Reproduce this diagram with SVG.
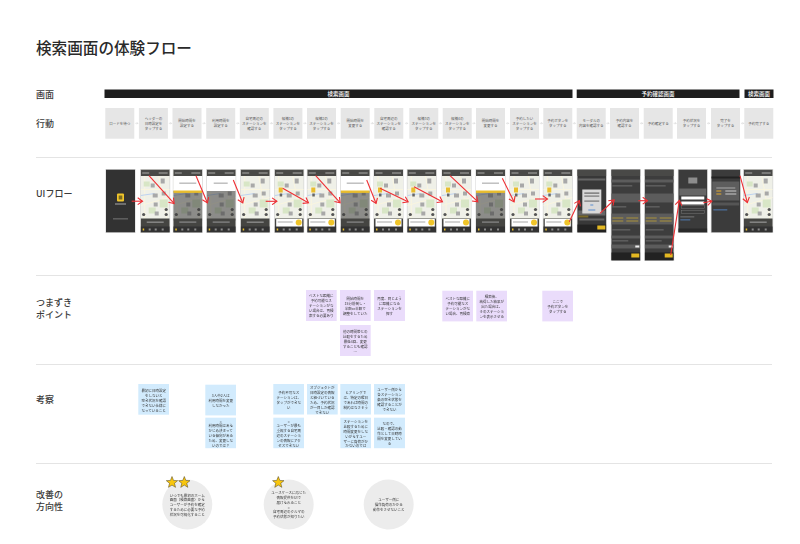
<svg xmlns="http://www.w3.org/2000/svg" xmlns:xlink="http://www.w3.org/1999/xlink" width="800" height="544" viewBox="0 0 800 544">
<style>
text{font-family:"Noto Sans CJK JP","Noto Sans",sans-serif;fill:#333}
.title{font-size:15.6px;font-weight:500;fill:#2a2a2a}
.sec{font-size:9px;font-weight:500;fill:#3a3a3a}
.bt{font-size:5.5px;fill:#fff;text-anchor:middle;font-weight:500}
.t{font-size:3.5px;text-anchor:middle;fill:#555}
.n{font-size:3.5px;text-anchor:middle;fill:#333}
.bar{fill:#1e1e1e}
.act{fill:#e6e6e6}
.pur{fill:#eadcfb}
.blu{fill:#d2ebfd}
.circ{fill:#ececec}
.sep{stroke:#e4e4e4;stroke-width:1}
.aa{stroke:#c8c8c8;stroke-width:.5;fill:none}
.red{stroke:#ee2e33;stroke-width:1.1;fill:none;marker-end:url(#rh)}
.star{fill:#f8c60d;stroke:#4a3d10;stroke-width:.5}
.fr{fill:#d4d4d4}
</style>
<defs>
<filter id="soft" x="-2%" y="-2%" width="104%" height="104%"><feGaussianBlur stdDeviation=".3"/></filter>
<marker id="rh" markerWidth="8" markerHeight="8" refX="5.6" refY="4" orient="auto" markerUnits="userSpaceOnUse"><path d="M1 .6L5.8 4L1 7.4" fill="none" stroke="#ee2e33" stroke-width="1.1"/></marker>
<path id="st" d="M0-6L1.53-2.1 5.7-1.85 2.47.8 3.53 4.85 0 2.6-3.53 4.85-2.47.8-5.7-1.85-1.53-2.1Z"/>
<g id="mapbase">
<rect width="29" height="63" fill="#eff0e8"/>
<path d="M0 20H29M4 6V49M18 6L26 49M0 36L29 28" stroke="#f9f5df" stroke-width="1" fill="none"/>
<path d="M19 30h8v8h-8zM3 12h6v5H3zM8 38h7v6H8z" fill="#d8e6c6"/>
<path d="M0 26L14 24" stroke="#bcd2f0" stroke-width="1"/>
<g fill="#a8a8a8"><rect x="20" y="9" width="4" height="5"/><rect x="10" y="14" width="4" height="4"/><rect x="12" y="24" width="5" height="4"/><rect x="21" y="22" width="4" height="4"/><rect x="13" y="33" width="4" height="4"/><rect x="14" y="42" width="4" height="4"/></g>
<g fill="#555"><circle cx="3" cy="45" r="1.6"/><circle cx="25.5" cy="40" r="1.6"/><circle cx="25.5" cy="45" r="1.6"/></g>
<rect width="29" height="6.5" fill="#4a4a46"/>
<rect x="1.5" y="3" width="7" height="1" fill="#aaa"/><rect x="18" y="3" width="9" height="1" fill="#aaa"/>
</g>
<g id="nav">
<rect y="49" width="29" height="14" fill="#454543"/>
<rect x="0" y="57" width="29" height="6" fill="#333"/>
<g fill="#8d8d8d"><rect x="8" y="59" width="2" height="2"/><rect x="14" y="59" width="2" height="2"/><rect x="21" y="59" width="2" height="2"/></g>
<rect x="2" y="59" width="1.5" height="2" fill="#e8bd2a"/>
</g>
<symbol id="splash" viewBox="0 0 29 63"><rect width="29" height="63" fill="#323232"/><rect x="11" y="24" width="7" height="8" rx="1" fill="#f0c52a"/><rect x="12.7" y="26" width="3.6" height="4" fill="#7a6a20"/><rect x="9" y="34" width="11" height="1" fill="#aaa"/><rect x="7" y="49" width="15" height=".8" fill="#888"/></symbol>
<symbol id="map" viewBox="0 0 29 63"><use xlink:href="#mapbase"/><use xlink:href="#nav"/><rect x="6" y="52" width="17" height="1.4" fill="#8a8a8a"/></symbol>
<symbol id="over" viewBox="0 0 29 63"><use xlink:href="#mapbase"/><rect y="21" width="29" height="30" fill="#3a3a3a" opacity=".55"/><use xlink:href="#nav"/><rect x="6" y="52" width="17" height="1.2" fill="#8a8a8a"/><rect y="6.5" width="29" height="15" fill="#fff"/><rect y="21" width="29" height="2.4" fill="#e9bd2e"/><rect x="6" y="13" width="17" height="1.4" fill="#bbb"/></symbol>
<symbol id="over2" viewBox="0 0 29 63"><use xlink:href="#mapbase"/><rect y="21" width="29" height="30" fill="#3a3a3a" opacity=".55"/><use xlink:href="#nav"/><rect x="6" y="52" width="17" height="1.2" fill="#8a8a8a"/><rect y="6.5" width="29" height="15" fill="#fff"/><rect x="7" y="13" width="14" height="1.4" fill="#bbb"/></symbol>
<symbol id="card" viewBox="0 0 29 63"><use xlink:href="#mapbase"/><use xlink:href="#nav"/><rect x="1.5" y="49.5" width="26" height="7.5" fill="#fff"/><circle cx="24" cy="53" r="3" fill="#f0c52a"/><rect x="3" y="52" width="15" height="1" fill="#aaa"/><rect x="4" y="18" width="4" height="5" fill="#e9bd2e"/><rect x="5" y="24" width="2.5" height="3" fill="#666"/></symbol>
<symbol id="d1" viewBox="0 0 29 63"><rect width="29" height="63" fill="#393939"/><rect width="29" height="6.5" fill="#4a4a46"/><g fill="#666"><rect x="1" y="9" width="27" height="2"/><rect x="1" y="41" width="27" height="5"/><rect x="2" y="49" width="25" height="2"/></g><rect x="5" y="20" width="19" height="24" fill="#d9d9d9"/><rect x="7" y="23" width="15" height="1.2" fill="#666"/><rect x="7" y="26" width="15" height="1.2" fill="#777"/><rect x="7" y="31" width="15" height="1.2" fill="#777"/><rect x="13" y="35" width="3" height="1" fill="#5b8ed0"/><rect x="11" y="40" width="7" height="1" fill="#5b8ed0"/><rect x="1" y="46" width="10" height="2" fill="#7a6a2c"/><rect y="55" width="29" height="8" fill="#222"/><rect x="20" y="56" width="8" height="4" fill="#e3b824"/></symbol>
<symbol id="d2" viewBox="0 0 29 91"><rect width="29" height="91" fill="#3d3d3d"/><rect width="29" height="6.5" fill="#4a4a46"/><g fill="#5c5c5c"><rect y="10" width="29" height="3"/><rect y="24" width="29" height="9"/><rect y="44" width="29" height="11"/><rect y="66" width="29" height="3"/><rect y="75" width="29" height="4"/></g><g fill="#a9913c"><rect x="1" y="48" width="11" height="1"/><rect x="15" y="48" width="12" height="1"/><rect x="1" y="51" width="11" height="1"/><rect x="15" y="51" width="12" height="1"/></g><g fill="#7a7a7a"><rect x="1" y="16" width="20" height=".8"/><rect x="1" y="37" width="14" height=".8"/><rect x="1" y="60" width="18" height=".8"/><rect x="1" y="71" width="16" height=".8"/></g><rect x="24" y="76" width="4" height="2" fill="#eee"/><rect y="83" width="29" height="8" fill="#222"/><rect x="20" y="84" width="8" height="4" fill="#e3b824"/></symbol>
<symbol id="d3" viewBox="0 0 29 63"><rect width="29" height="63" fill="#3a3a3a"/><rect x="10" y="8" width="9" height="6" fill="#8d8d8d"/><rect x="1" y="19" width="27" height="7" fill="#666"/><rect x="3" y="27" width="23" height="3" fill="#fff"/><rect x="3" y="32" width="23" height="3" fill="#fff"/><rect x="3" y="36" width="23" height="3" fill="none" stroke="#888" stroke-width=".4"/><rect x="3" y="41" width="23" height="3" fill="none" stroke="#888" stroke-width=".4"/><rect x="2" y="47" width="14" height=".8" fill="#888"/><rect x="2" y="50" width="10" height=".8" fill="#5b8ed0"/><rect y="59" width="29" height="4" fill="#292929"/></symbol>
<symbol id="d4" viewBox="0 0 29 63"><rect width="29" height="63" fill="#3a3a3a"/><rect y="7" width="29" height="2" fill="#222"/><rect x="1" y="12" width="27" height="19" fill="#5d5d5d"/><rect x="5" y="18" width="19" height="1" fill="#aaa"/><rect x="5" y="21" width="5" height="1" fill="#e3a92c"/><rect x="14" y="21" width="11" height="1" fill="#ccc"/><rect x="5" y="24" width="5" height="1" fill="#e3a92c"/><rect x="14" y="24" width="11" height="1" fill="#ccc"/><rect x="1" y="33" width="27" height="3" fill="#555"/><rect x="2" y="40" width="14" height=".8" fill="#5b8ed0"/></symbol>
</defs>
<rect width="800" height="544" fill="#fff"/>
<text class="title" x="36" y="54">検索画面の体験フロー</text>

<g id="labels">
<text class="sec" x="36" y="97.5">画面</text>
<text class="sec" x="36" y="127">行動</text>
<text class="sec" x="36" y="197">UIフロー</text>
<text class="sec" x="36" y="306">つまずき</text>
<text class="sec" x="36" y="318">ポイント</text>
<text class="sec" x="36" y="403">考察</text>
<text class="sec" x="36" y="497.5">改善の</text>
<text class="sec" x="36" y="509.5">方向性</text>
</g>
<g id="separators">
<path class="sep" d="M36 157.5H772M36 275.5H772M36 364.5H772M36 463.5H772"/>
</g>

<g id="screen-bars">
<g id="bar-1"><rect class="bar" x="104.5" y="89.5" width="468" height="8.5"/><text class="bt" x="338.5" y="95.8">検索画面</text></g>
<g id="bar-2"><rect class="bar" x="576.7" y="89.5" width="162.8" height="8.5"/><text class="bt" x="658" y="95.8">予約確認画面</text></g>
<g id="bar-3"><rect class="bar" x="744.5" y="89.5" width="29" height="8.5"/><text class="bt" x="759" y="95.8">検索画面</text></g>
</g>

<g id="actions">
<g id="a1"><rect class="act" x="105.3" y="108" width="29" height="30.7"/><text class="t" x="119.8" y="124.5">ロードを待つ</text></g>
<g id="a2"><rect class="act" x="138.9" y="108" width="29" height="30.7"/><text class="t"><tspan x="153.4" y="119.5">ヘッダーの</tspan><tspan x="153.4" y="124.5">日時設定を</tspan><tspan x="153.4" y="129.5">タップする</tspan></text></g>
<g id="a3"><rect class="act" x="172.5" y="108" width="29" height="30.7"/><text class="t"><tspan x="187" y="122">開始時間を</tspan><tspan x="187" y="127">設定する</tspan></text></g>
<g id="a4"><rect class="act" x="206.2" y="108" width="29" height="30.7"/><text class="t"><tspan x="220.7" y="122">利用時間を</tspan><tspan x="220.7" y="127">設定する</tspan></text></g>
<g id="a5"><rect class="act" x="239.8" y="108" width="29" height="30.7"/><text class="t"><tspan x="254.3" y="119.5">自宅周辺の</tspan><tspan x="254.3" y="124.5">ステーションを</tspan><tspan x="254.3" y="129.5">確認する</tspan></text></g>
<g id="a6"><rect class="act" x="273.4" y="108" width="29" height="30.7"/><text class="t"><tspan x="287.9" y="119.5">候補1の</tspan><tspan x="287.9" y="124.5">ステーションを</tspan><tspan x="287.9" y="129.5">タップする</tspan></text></g>
<g id="a7"><rect class="act" x="307" y="108" width="29" height="30.7"/><text class="t"><tspan x="321.5" y="119.5">候補2の</tspan><tspan x="321.5" y="124.5">ステーションを</tspan><tspan x="321.5" y="129.5">タップする</tspan></text></g>
<g id="a8"><rect class="act" x="340.7" y="108" width="29" height="30.7"/><text class="t"><tspan x="355.2" y="122">開始時間を</tspan><tspan x="355.2" y="127">変更する</tspan></text></g>
<g id="a9"><rect class="act" x="374.3" y="108" width="29" height="30.7"/><text class="t"><tspan x="388.8" y="119.5">自宅周辺の</tspan><tspan x="388.8" y="124.5">ステーションを</tspan><tspan x="388.8" y="129.5">確認する</tspan></text></g>
<g id="a10"><rect class="act" x="409.3" y="108" width="29" height="30.7"/><text class="t"><tspan x="423.8" y="119.5">候補3の</tspan><tspan x="423.8" y="124.5">ステーションを</tspan><tspan x="423.8" y="129.5">タップする</tspan></text></g>
<g id="a11"><rect class="act" x="442.7" y="108" width="29" height="30.7"/><text class="t"><tspan x="457.2" y="119.5">候補4の</tspan><tspan x="457.2" y="124.5">ステーションを</tspan><tspan x="457.2" y="129.5">タップする</tspan></text></g>
<g id="a12"><rect class="act" x="476" y="108" width="29" height="30.7"/><text class="t"><tspan x="490.5" y="122">開始時間を</tspan><tspan x="490.5" y="127">変更する</tspan></text></g>
<g id="a13"><rect class="act" x="510" y="108" width="29" height="30.7"/><text class="t"><tspan x="524.5" y="119.5">予約したい</tspan><tspan x="524.5" y="124.5">ステーションを</tspan><tspan x="524.5" y="129.5">タップする</tspan></text></g>
<g id="a14"><rect class="act" x="543.3" y="108" width="29" height="30.7"/><text class="t"><tspan x="557.8" y="122">予約ボタンを</tspan><tspan x="557.8" y="127">タップする</tspan></text></g>
<g id="a15"><rect class="act" x="576.7" y="108" width="29" height="30.7"/><text class="t"><tspan x="591.2" y="122">モーダルの</tspan><tspan x="591.2" y="127">内容を確認する</tspan></text></g>
<g id="a16"><rect class="act" x="610" y="108" width="29" height="30.7"/><text class="t"><tspan x="624.5" y="122">予約内容を</tspan><tspan x="624.5" y="127">確認する</tspan></text></g>
<g id="a17"><rect class="act" x="643.7" y="108" width="29" height="30.7"/><text class="t" x="658.2" y="124.5">予約確定する</text></g>
<g id="a18"><rect class="act" x="677" y="108" width="29" height="30.7"/><text class="t"><tspan x="691.5" y="122">予約状況を</tspan><tspan x="691.5" y="127">タップする</tspan></text></g>
<g id="a19"><rect class="act" x="711" y="108" width="29" height="30.7"/><text class="t"><tspan x="725.5" y="122">完了を</tspan><tspan x="725.5" y="127">タップする</tspan></text></g>
<g id="a20"><rect class="act" x="744.3" y="108" width="29" height="30.7"/><text class="t" x="758.8" y="124.5">予約完了する</text></g>
</g>
<g id="action-connectors">
<path class="aa" d="M135.3 123.3h2.6m-1 -1l1 1l-1 1M168.9 123.3h2.6m-1 -1l1 1l-1 1M202.5 123.3h2.6m-1 -1l1 1l-1 1M236.2 123.3h2.6m-1 -1l1 1l-1 1M269.8 123.3h2.6m-1 -1l1 1l-1 1M303.4 123.3h2.6m-1 -1l1 1l-1 1M337 123.3h2.6m-1 -1l1 1l-1 1M370.7 123.3h2.6m-1 -1l1 1l-1 1M405 123.3h2.6m-1 -1l1 1l-1 1M438.8 123.3h2.6m-1 -1l1 1l-1 1M472.4 123.3h2.6m-1 -1l1 1l-1 1M506 123.3h2.6m-1 -1l1 1l-1 1M539.8 123.3h2.6m-1 -1l1 1l-1 1M572.8 123.3h2.6m-1 -1l1 1l-1 1M606.4 123.3h2.6m-1 -1l1 1l-1 1M640 123.3h2.6m-1 -1l1 1l-1 1M673.6 123.3h2.6m-1 -1l1 1l-1 1M707 123.3h2.6m-1 -1l1 1l-1 1M741 123.3h2.6m-1 -1l1 1l-1 1"/>
</g>

<g id="ui-flow" filter="url(#soft)">
<g id="s1"><rect class="fr" x="105.5" y="169" width="30" height="64"/><use xlink:href="#splash" x="106" y="169.5" width="29" height="63"/></g>
<g id="s2"><rect class="fr" x="140.2" y="169" width="30" height="64"/><use xlink:href="#map" x="140.7" y="169.5" width="29" height="63"/></g>
<g id="s3"><rect class="fr" x="172.8" y="169" width="30" height="64"/><use xlink:href="#over" x="173.3" y="169.5" width="29" height="63"/></g>
<g id="s4"><rect class="fr" x="206.2" y="169" width="30" height="64"/><use xlink:href="#over2" x="206.7" y="169.5" width="29" height="63"/></g>
<g id="s5"><rect class="fr" x="240.2" y="169" width="30" height="64"/><use xlink:href="#map" x="240.7" y="169.5" width="29" height="63"/></g>
<g id="s6"><rect class="fr" x="274.2" y="169" width="30" height="64"/><use xlink:href="#card" x="274.7" y="169.5" width="29" height="63"/></g>
<g id="s7"><rect class="fr" x="306.8" y="169" width="30" height="64"/><use xlink:href="#card" x="307.3" y="169.5" width="29" height="63"/></g>
<g id="s8"><rect class="fr" x="340.2" y="169" width="30" height="64"/><use xlink:href="#over" x="340.7" y="169.5" width="29" height="63"/></g>
<g id="s9"><rect class="fr" x="373.5" y="169" width="30" height="64"/><use xlink:href="#card" x="374" y="169.5" width="29" height="63"/></g>
<g id="s10"><rect class="fr" x="406.8" y="169" width="30" height="64"/><use xlink:href="#card" x="407.3" y="169.5" width="29" height="63"/></g>
<g id="s11"><rect class="fr" x="441.5" y="169" width="30" height="64"/><use xlink:href="#card" x="442" y="169.5" width="29" height="63"/></g>
<g id="s12"><rect class="fr" x="475.5" y="169" width="30" height="64"/><use xlink:href="#over" x="476" y="169.5" width="29" height="63"/></g>
<g id="s13"><rect class="fr" x="509.5" y="169" width="30" height="64"/><use xlink:href="#card" x="510" y="169.5" width="29" height="63"/></g>
<g id="s14"><rect class="fr" x="542.8" y="169" width="30" height="64"/><use xlink:href="#card" x="543.3" y="169.5" width="29" height="63"/></g>
<g id="s15"><rect class="fr" x="576.8" y="169" width="30" height="64"/><use xlink:href="#d1" x="577.3" y="169.5" width="29" height="63"/></g>
<g id="s16"><rect class="fr" x="610.8" y="169" width="30" height="92"/><use xlink:href="#d2" x="611.3" y="169.5" width="29" height="91"/></g>
<g id="s17"><rect class="fr" x="644.2" y="169" width="30" height="92"/><use xlink:href="#d2" x="644.7" y="169.5" width="29" height="91"/></g>
<g id="s18"><rect class="fr" x="677.8" y="169" width="30" height="64"/><use xlink:href="#d3" x="678.3" y="169.5" width="29" height="63"/></g>
<g id="s19"><rect class="fr" x="710.8" y="169" width="30" height="64"/><use xlink:href="#d4" x="711.3" y="169.5" width="29" height="63"/></g>
<g id="s20"><rect class="fr" x="743.2" y="169" width="30" height="64"/><use xlink:href="#map" x="743.7" y="169.5" width="29" height="63"/></g>
</g>
<g id="connectors">
<path class="red" d="M131.7 201.2H142.3"/>
<path class="red" d="M149 175.7L174 203.3"/>
<path class="red" d="M196 175.7L207.3 202.7"/>
<path class="red" d="M233.3 180L242.7 202.7"/>
<path class="red" d="M265.7 201.3H276.7"/>
<path class="red" d="M282.7 188.3L308.3 202.7"/>
<path class="red" d="M315.7 175.7L340 202.7"/>
<path class="red" d="M366.7 180L376 203.3"/>
<path class="red" d="M380 188.3L408 201.7"/>
<path class="red" d="M414 186.7L442.3 201.7"/>
<path class="red" d="M450 175.7L477.7 201.7"/>
<path class="red" d="M502.3 178.3L514 201.7"/>
<path class="red" d="M535 199H547.3"/>
<path class="red" d="M569.3 221.7L579.3 200.7"/>
<path class="red" d="M600 213.3L614 200"/>
<path class="red" d="M638.3 200.7H647.3"/>
<path class="red" d="M670.7 255L679.3 200.7"/>
<path class="red" d="M703.3 202.7L711.7 201.3"/>
<path class="red" d="M740 175.7L747.3 202.3"/>
</g>

<g id="pain-points">
<g id="p1"><rect class="pur" x="306" y="290" width="30.7" height="31"/><text class="n"><tspan x="321.3" y="297">ベストな距離に</tspan><tspan x="321.3" y="302">予約可能なス</tspan><tspan x="321.3" y="307">テーションがな</tspan><tspan x="321.3" y="312">い場合は、再検</tspan><tspan x="321.3" y="317">索する必要あり</tspan></text></g>
<g id="p2"><rect class="pur" x="340" y="290" width="30.7" height="31"/><text class="n"><tspan x="355.3" y="299.5">開始時間を</tspan><tspan x="355.3" y="304.5">15分前倒し・</tspan><tspan x="355.3" y="309.5">半額or半額で</tspan><tspan x="355.3" y="314.5">調整をしていた</tspan></text></g>
<g id="p3"><rect class="pur" x="374" y="290" width="31" height="31"/><text class="n"><tspan x="389.5" y="299.5">再度、同じよう</tspan><tspan x="389.5" y="304.5">に距離になる</tspan><tspan x="389.5" y="309.5">ステーションを</tspan><tspan x="389.5" y="314.5">探す</tspan></text></g>
<g id="p4"><rect class="pur" x="340" y="325" width="30.7" height="31"/><text class="n"><tspan x="355.3" y="333">他の時間帯との</tspan><tspan x="355.3" y="338">比較をするため</tspan><tspan x="355.3" y="343">最低4回、変更</tspan><tspan x="355.3" y="348">することも確認</tspan><tspan x="355.3" y="353">…</tspan></text></g>
<g id="p5"><rect class="pur" x="442.3" y="290.7" width="30.7" height="30.7"/><text class="n"><tspan x="457.7" y="300">ベストな距離に</tspan><tspan x="457.7" y="305">予約可能なス</tspan><tspan x="457.7" y="310">テーションがな</tspan><tspan x="457.7" y="315">い場合、再検索</tspan></text></g>
<g id="p6"><rect class="pur" x="476.3" y="290.7" width="30.7" height="30.7"/><text class="n"><tspan x="491.7" y="298">検索後、</tspan><tspan x="491.7" y="303">納得した結果が</tspan><tspan x="491.7" y="308">出た場合は、</tspan><tspan x="491.7" y="313">そのステーショ</tspan><tspan x="491.7" y="318">ンを表示させる</tspan></text></g>
<g id="p7"><rect class="pur" x="542.3" y="290.7" width="30.7" height="30.7"/><text class="n"><tspan x="557.7" y="302.5">ここで</tspan><tspan x="557.7" y="307.5">予約ボタンを</tspan><tspan x="557.7" y="312.5">タップする</tspan></text></g>
</g>

<g id="insights">
<g id="b1"><rect class="blu" x="138.3" y="384" width="30.7" height="30.7"/><text class="n"><tspan x="153.7" y="391.5">最初に日時設定</tspan><tspan x="153.7" y="396.5">をしないと</tspan><tspan x="153.7" y="401.5">空き状況を確認</tspan><tspan x="153.7" y="406.5">できない仕様に</tspan><tspan x="153.7" y="411.5">なっていること</tspan></text></g>
<g id="b2"><rect class="blu" x="205.3" y="384.7" width="30.7" height="30.7"/><text class="n"><tspan x="220.7" y="397">3人中2人は</tspan><tspan x="220.7" y="402">利用時間を変更</tspan><tspan x="220.7" y="407">しなかった</tspan></text></g>
<g id="b3"><rect class="blu" x="205.3" y="417.7" width="30.7" height="30.5"/><text class="n"><tspan x="220.7" y="422.5">=</tspan><tspan x="220.7" y="427">利用時間はあら</tspan><tspan x="220.7" y="432">かじめ決まって</tspan><tspan x="220.7" y="437">いる傾向がある</tspan><tspan x="220.7" y="442">ため、変更しな</tspan><tspan x="220.7" y="447">いのでは？</tspan></text></g>
<g id="b4"><rect class="blu" x="273.3" y="384" width="30.7" height="30.5"/><text class="n"><tspan x="288.7" y="394">予約不可なス</tspan><tspan x="288.7" y="399">テーションは、</tspan><tspan x="288.7" y="404">タップができな</tspan><tspan x="288.7" y="409">い</tspan></text></g>
<g id="b5"><rect class="blu" x="307" y="384" width="30.7" height="30.5"/><text class="n"><tspan x="322.3" y="389">オブジェクトが</tspan><tspan x="322.3" y="394">日時設定の情報</tspan><tspan x="322.3" y="399">と紐づいている</tspan><tspan x="322.3" y="404">ため、予約状況</tspan><tspan x="322.3" y="409">が一目しか確認</tspan><tspan x="322.3" y="414">できない</tspan></text></g>
<g id="b6"><rect class="blu" x="340.3" y="384" width="30.7" height="30.5"/><text class="n"><tspan x="355.7" y="394">ヒアリングで</tspan><tspan x="355.7" y="399">は、特定の曜日</tspan><tspan x="355.7" y="404">であれば時間の</tspan><tspan x="355.7" y="409">制約はなさそう</tspan></text></g>
<g id="b7"><rect class="blu" x="374" y="384" width="31" height="30.5"/><text class="n"><tspan x="389.5" y="391">ユーザー側から</tspan><tspan x="389.5" y="396">各ステーション</tspan><tspan x="389.5" y="401">象の空き状態を</tspan><tspan x="389.5" y="406">確認することが</tspan><tspan x="389.5" y="411">できない</tspan></text></g>
<g id="b8"><rect class="blu" x="273.3" y="417.7" width="30.7" height="30.5"/><text class="n"><tspan x="288.7" y="422.5">=</tspan><tspan x="288.7" y="427">ユーザーが最も</tspan><tspan x="288.7" y="432">重視する自宅周</tspan><tspan x="288.7" y="437">辺のステーショ</tspan><tspan x="288.7" y="442">ンの情報にアク</tspan><tspan x="288.7" y="447">セスできない</tspan></text></g>
<g id="b9"><rect class="blu" x="340.3" y="417.7" width="30.7" height="30.5"/><text class="n"><tspan x="355.7" y="422.5">ステーションを</tspan><tspan x="355.7" y="427.5">比較するために</tspan><tspan x="355.7" y="432.5">時間変更をしな</tspan><tspan x="355.7" y="437.5">いがらすユー</tspan><tspan x="355.7" y="442.5">ザーに負荷がか</tspan><tspan x="355.7" y="447">かないのでは</tspan></text></g>
<g id="b10"><rect class="blu" x="374" y="417.7" width="31" height="30.5"/><text class="n"><tspan x="389.5" y="425">なので、</tspan><tspan x="389.5" y="430">比較・確認の動</tspan><tspan x="389.5" y="435">作として日時時</tspan><tspan x="389.5" y="440">間を変更してい</tspan><tspan x="389.5" y="445">る</tspan></text></g>
</g>

<g id="improvements">
<g id="c1"><circle class="circ" cx="187.3" cy="504.5" r="25"/><text class="n"><tspan x="187.3" y="496.5">いつでも最初のホーム</tspan><tspan x="187.3" y="501.3">画面（検索画面）から</tspan><tspan x="187.3" y="506">ユーザーが予約を確定</tspan><tspan x="187.3" y="510.8">するために必要な予約</tspan><tspan x="187.3" y="515.6">状況を可視化すること</tspan></text></g>
<g id="c2"><circle class="circ" cx="288.7" cy="504.5" r="25"/><text class="n"><tspan x="288.7" y="494">ユースケースに応じた</tspan><tspan x="288.7" y="499">情報提供をUIで</tspan><tspan x="288.7" y="503.5">届けられること</tspan><tspan x="288.7" y="508.5">=</tspan><tspan x="288.7" y="513">自宅周辺のクルマの</tspan><tspan x="288.7" y="518">予約状態が知りたい</tspan></text></g>
<g id="c3"><circle class="circ" cx="388.7" cy="504.5" r="25"/><text class="n"><tspan x="388.7" y="501">ユーザー側に</tspan><tspan x="388.7" y="505.8">操作負荷のかかる</tspan><tspan x="388.7" y="510.6">動作をさせないこと</tspan></text></g>
<g id="stars">
<use class="star" xlink:href="#st" x="172" y="482.5"/>
<use class="star" xlink:href="#st" x="184.3" y="482.5"/>
<use class="star" xlink:href="#st" x="278.3" y="482.5"/>
</g>
</g>
</svg>
